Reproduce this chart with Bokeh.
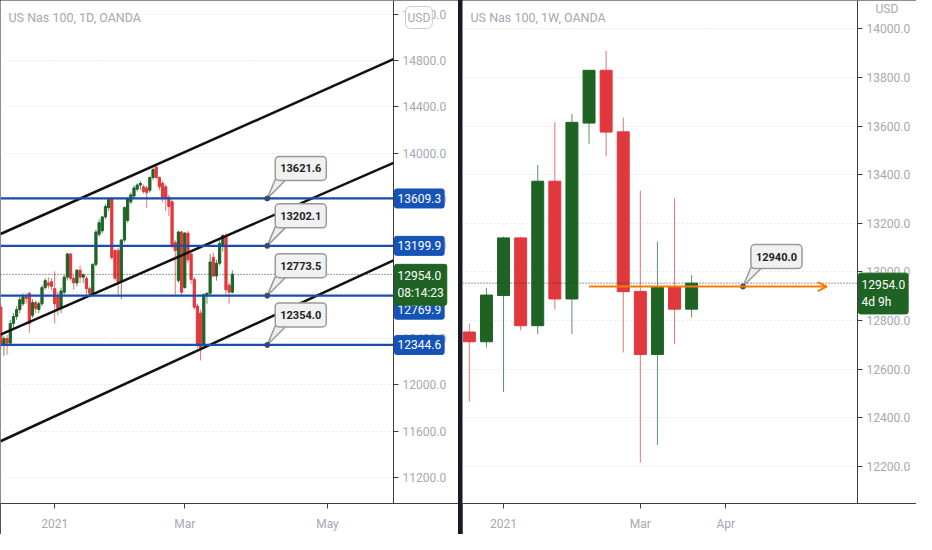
from bokeh.plotting import figure
from bokeh.layouts import row
from bokeh.models import (Range1d, FixedTicker, NumeralTickFormatter, Label,
                          ColumnDataSource, Arrow, OpenHead, BoxAnnotation)
from bokeh.embed import file_html
from bokeh.resources import INLINE

# ---------------- data ----------------
# daily candles (bar index 0 = first bar of 2021)
d_idx = list(range(-17, 57))
d_open = [12672, 12353, 12400, 12360, 12530, 12590, 12650, 12700, 12760, 12790,
          12600, 12710, 12650, 12700, 12840, 12880, 12890, 12830, 12760, 12660,
          12800, 12930, 13130, 12920, 12880, 12990, 12930, 12920, 12830, 12790,
          13040, 13300, 13330, 13450, 13530, 13610, 13160, 13160, 12900, 13250,
          13420, 13580, 13630, 13690, 13725, 13710, 13700, 13680, 13790, 13880,
          13790, 13740, 13710, 13620, 13580, 13230, 12900, 13320, 12840, 13310,
          13130, 12910, 12680, 12620, 12350, 12770, 12790, 13100, 12940, 13050,
          13210, 13280, 12860, 12800]
d_high = [12700, 12420, 12430, 12560, 12620, 12680, 12760, 12790, 12790, 12800,
          12740, 12730, 12720, 12860, 12920, 12930, 12920, 12980, 12800, 12840,
          12950, 13140, 13140, 12950, 13000, 13030, 12960, 12940, 12850, 13050,
          13340, 13430, 13460, 13560, 13615, 13620, 13170, 13180, 13260, 13540,
          13620, 13660, 13720, 13740, 13760, 13730, 13720, 13800, 13870, 13910,
          13800, 13760, 13730, 13640, 13600, 13250, 13330, 13330, 13320, 13330,
          13140, 12930, 12700, 12650, 12790, 12800, 13130, 13140, 13080, 13250,
          13300, 13310, 12880, 12990]
d_low = [12308, 12250, 12260, 12340, 12480, 12560, 12620, 12680, 12700, 12450,
         12580, 12620, 12620, 12680, 12820, 12830, 12820, 12530, 12600, 12620,
         12780, 12900, 12900, 12820, 12850, 12880, 12880, 12770, 12760, 12780,
         13020, 13280, 13310, 13430, 13500, 13080, 12900, 12760, 12740, 13230,
         13400, 13560, 13610, 13670, 13680, 13650, 13530, 13660, 13770, 13780,
         13680, 13580, 13500, 13460, 13180, 12780, 12880, 12780, 12830, 13050,
         12870, 12650, 12320, 12210, 12330, 12700, 12770, 12930, 12900, 13030,
         13150, 12780, 12700, 12790]
d_close = [12353, 12400, 12360, 12530, 12590, 12650, 12735, 12760, 12745, 12530,
           12710, 12660, 12700, 12840, 12900, 12860, 12850, 12700, 12660, 12810,
           12930, 13130, 12920, 12880, 12990, 12930, 12950, 12830, 12790, 13040,
           13320, 13400, 13450, 13540, 13600, 13100, 12920, 12890, 13250, 13530,
           13610, 13640, 13700, 13725, 13740, 13670, 13660, 13790, 13860, 13790,
           13710, 13620, 13610, 13540, 13200, 13160, 13320, 12800, 13310, 13080,
           12910, 12670, 12350, 12320, 12780, 12790, 13060, 12940, 13050, 13220,
           13290, 12820, 12800, 12954]

# weekly candles (index 2 = week of 4 Jan 2021)
w_idx = list(range(14))
w_open = [12753, 12713, 12903, 13140, 12779, 13373, 12889, 13612, 13829, 13576, 12920, 12661, 12940, 12847]
w_high = [12787, 12935, 13145, 13145, 13440, 13616, 13649, 13829, 13909, 13635, 13335, 13125, 13303, 12987]
w_low = [12467, 12689, 12507, 12760, 12745, 12845, 12745, 13527, 13475, 12669, 12216, 12289, 12703, 12813]
w_close = [12713, 12905, 13140, 12779, 13373, 12889, 13615, 13829, 13575, 12919, 12661, 12940, 12847, 12954]

last_price = 12954.0
day_countdown = "08:14:23"
week_countdown = "4d 9h"

# left-panel drawings
level_prices = [13609.3, 13199.9, 12769.9, 12344.6]
callout_texts = ["13621.6", "13202.1", "12773.5", "12354.0"]
callout_bar = 67
channel_x0 = [-17.08, -17.08, -17.08]
channel_y0 = [13302.5, 12434.0, 11512.6]
channel_x1 = [106.8, 106.8, 106.8]
channel_y1 = [14811.8, 13917.6, 13075.6]

# right-panel drawing
w_ray_start = 7
w_ray_end = 20.9
w_ray_price = 12940.0
w_callout_bar = 16
w_callout_text = "12940.0"

# axes
left_yticks = [11200, 11600, 12000, 12400, 12800, 13200, 13600, 14000, 14400, 14800, 15200]
right_yticks = [12200, 12400, 12600, 12800, 13000, 13200, 13400, 13600, 13800, 14000]
left_xticks = [0, 41, 86]
left_xlabels = ["2021", "Mar", "May"]
right_xticks = [2, 10, 15]
right_xlabels = ["2021", "Mar", "Apr"]
title_left = "US Nas 100, 1D, OANDA"
title_right = "US Nas 100, 1W, OANDA"

# ---------------- style ----------------
GREEN = "#1e6324"
RED = "#e0383c"
BLUE = "#1a4cad"
BLUE_LBL = "#1553b6"
AX = "#3a3d45"
TXT = "#a5a8b0"
GRID = "#d3d6de"
FONT = "Roboto"
FH = 503
BB = 31


def base_fig(plot_w, axis_w, x0, x1, yr, yticks, xticks, xlabels):
    """frame covers plot area + price-axis area; price axis pinned at x1"""
    per_px = (x1 - x0) / plot_w
    xr = Range1d(x0, x1 + axis_w * per_px)
    p = figure(frame_width=plot_w + axis_w, frame_height=FH, x_range=xr, y_range=yr,
               y_axis_location="right", output_backend="svg", toolbar_location=None,
               min_border_left=0, min_border_top=0, min_border_right=0,
               min_border_bottom=BB)
    p.outline_line_color = None
    p.background_fill_color = "white"
    p.border_fill_color = "white"
    p.xgrid.visible = False
    p.ygrid.ticker = FixedTicker(ticks=yticks)
    p.ygrid.grid_line_color = GRID
    p.ygrid.grid_line_dash = "1 3"
    try:
        p.ygrid.cross_bounds = (x0, x1)
    except Exception:
        p.add_layout(BoxAnnotation(left=x1, fill_color="white", fill_alpha=1,
                                   line_color=None, level="underlay"))
    ya = p.yaxis[0]
    ya.fixed_location = x1
    ya.ticker = FixedTicker(ticks=yticks)
    ya.formatter = NumeralTickFormatter(format="0.0")
    xa = p.xaxis[0]
    xa.ticker = FixedTicker(ticks=xticks)
    xa.major_label_overrides = {t: l for t, l in zip(xticks, xlabels)}
    for a in (ya, xa):
        a.axis_line_color = AX
        a.major_tick_line_color = AX
        a.major_tick_out = 5
        a.major_tick_in = 0
        a.minor_tick_line_color = None
        a.major_label_text_color = TXT
        a.major_label_text_font = FONT
        a.major_label_text_font_size = "12px"
    ya.major_label_standoff = 4
    xa.major_label_standoff = 8
    return p, xr, per_px


def candles(p, idx, o, h, l, c, width):
    col = [GREEN if cc >= oo else RED for oo, cc in zip(o, c)]
    src = ColumnDataSource(dict(x=idx, top=[max(a, b) for a, b in zip(o, c)],
                                bottom=[min(a, b) for a, b in zip(o, c)],
                                high=h, low=l, color=col))
    p.segment(x0="x", y0="low", x1="x", y1="high", color="color", line_alpha=0.7,
              line_width=1, source=src)
    p.vbar(x="x", width=width, top="top", bottom="bottom", fill_color="color",
           line_color="color", source=src)


def axis_label(p, ax_x, price, text, color, dy=0, anchor="center_left"):
    p.add_layout(Label(x=ax_x, y=price, x_offset=1, y_offset=dy, text=text,
                       text_color="white", text_font=FONT, text_font_size="12px",
                       anchor=anchor, background_fill_color=color,
                       border_line_color=color, border_radius=2, padding=(3, 5)))


def callout(p, per_px, yr, bx, price, text):
    pxy = (yr.end - yr.start) / FH
    p.patch([bx, bx + 8 * per_px, bx + 19 * per_px],
            [price, price + 19 * pxy, price + 19 * pxy],
            fill_color="#eeeeee", line_color="#9a9a9a", line_width=1.5)
    p.scatter([bx], [price], size=5, color="#3a4a6a")
    p.add_layout(Label(x=bx, y=price, x_offset=8, y_offset=18, text=text,
                       anchor="bottom_left", text_color="#222222", text_font=FONT,
                       text_font_size="11px", text_font_style="bold",
                       background_fill_color="#f1f1f1", border_line_color="#9a9a9a",
                       border_line_width=1.5, border_radius=4, padding=(5, 8)))


# ---------------- left panel (daily) ----------------
X0L, X1L = -17.08, 106.8
yr1 = Range1d(10975, 15319)
p1, xr1, ppx1 = base_fig(393, 65, X0L, X1L, yr1, left_yticks, left_xticks, left_xlabels)
candles(p1, d_idx, d_open, d_high, d_low, d_close, 0.7)
p1.segment(x0=channel_x0, y0=channel_y0, x1=channel_x1, y1=channel_y1,
           line_color="#111111", line_width=2.5)
p1.segment(x0=[X0L] * len(level_prices), y0=level_prices, x1=[X1L] * len(level_prices),
           y1=level_prices, line_color=BLUE, line_width=2.2)
p1.segment(x0=[X0L], y0=[last_price], x1=[X1L], y1=[last_price],
           line_color="#2f3a2f", line_width=1, line_dash="1 2")
for lp, ct in zip(level_prices, callout_texts):
    callout(p1, ppx1, yr1, callout_bar, lp, ct)
p1.add_layout(Label(x=8, y=FH - 17, x_units="screen", y_units="screen", text=title_left,
                    text_color=TXT, text_font=FONT, text_font_size="12.5px",
                    anchor="center_left"))
for k, lp in enumerate(level_prices):
    axis_label(p1, X1L, lp, f"{lp:.1f}", BLUE_LBL, dy=-14 if k == 2 else 0)
axis_label(p1, X1L, last_price, f"{last_price:.1f}\n{day_countdown}", GREEN, dy=10,
           anchor="top_left")
p1.add_layout(Label(x=X1L, y=FH - 17, x_offset=12, y_units="screen", text="USD",
                    text_color=TXT, text_font=FONT, text_font_size="12px",
                    anchor="center_left", background_fill_color="white",
                    border_line_color="#c8cad0", border_radius=5, padding=(2, 4)))

# ---------------- right panel (weekly) ----------------
X0R, X1R = -0.4, 22.7
yr2 = Range1d(12048, 14116)
p2, xr2, ppx2 = base_fig(395, 59, X0R, X1R, yr2, right_yticks, right_xticks, right_xlabels)
candles(p2, w_idx, w_open, w_high, w_low, w_close, 0.7)
p2.segment(x0=[X0R], y0=[last_price], x1=[X1R], y1=[last_price],
           line_color="#2f3a2f", line_width=1, line_dash="1 2")
p2.add_layout(Arrow(end=OpenHead(size=9, line_color="#f57c00", line_width=2),
                    x_start=w_ray_start, y_start=w_ray_price, x_end=w_ray_end,
                    y_end=w_ray_price, line_color="#f57c00", line_width=2))
callout(p2, ppx2, yr2, w_callout_bar, w_ray_price, w_callout_text)
p2.add_layout(Label(x=8, y=FH - 17, x_units="screen", y_units="screen", text=title_right,
                    text_color=TXT, text_font=FONT, text_font_size="12.5px",
                    anchor="center_left"))
axis_label(p2, X1R, last_price, f"{last_price:.1f}\n{week_countdown}", GREEN, dy=10,
           anchor="top_left")
p2.add_layout(Label(x=X1R, y=FH - 8, x_offset=18, y_units="screen", text="USD",
                    text_color=TXT, text_font=FONT, text_font_size="12px",
                    anchor="center_left"))

layout = row(p1, p2, spacing=4, styles={"background-color": "#161a25"})
open("out.html", "w").write(file_html(layout, INLINE))
